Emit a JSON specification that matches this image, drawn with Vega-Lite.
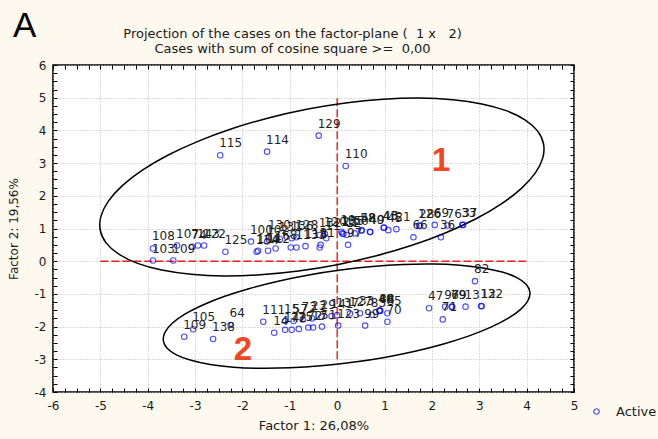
{
  "$schema": "https://vega.github.io/schema/vega-lite/v6.json",
  "autosize": {"type": "none"},
  "width": 521,
  "height": 327,
  "padding": {"left": 53, "top": 65, "right": 84, "bottom": 47},
  "background": "#fdf9ee",
  "config": {
    "font": "DejaVu Sans",
    "view": {"fill": "#ffffff", "stroke": "#000000", "strokeWidth": 1.6}
  },
  "title": {
    "text": "Projection of the cases on the factor-plane (\u00a0 1 x \u00a0 2)",
    "subtitle": "Cases with sum of cosine square >=\u00a0 0,00",
    "font": "DejaVu Sans",
    "subtitleFont": "DejaVu Sans",
    "fontSize": 13,
    "fontWeight": "normal",
    "subtitleFontSize": 13,
    "color": "#1a1a1a",
    "subtitleColor": "#1a1a1a",
    "anchor": "middle",
    "frame": "group",
    "dx": -21,
    "offset": -47,
    "subtitlePadding": 2
  },
  "datasets": {
    "pts": [
      {"x": -0.39, "y": 3.84, "id": "129", "status": "Active"},
      {"x": -1.48, "y": 3.35, "id": "114", "status": "Active"},
      {"x": -2.47, "y": 3.24, "id": "115", "status": "Active"},
      {"x": 0.18, "y": 2.91, "id": "110", "status": "Active"},
      {"x": -3.89, "y": 0.39, "id": "108", "status": "Active"},
      {"x": -3.89, "y": 0.02, "id": "103", "status": "Active"},
      {"x": -3.46, "y": 0.02, "id": "109", "status": "Active"},
      {"x": -3.38, "y": 0.48, "id": "107", "status": "Active"},
      {"x": -3.06, "y": 0.44, "id": "74", "status": "Active"},
      {"x": -2.94, "y": 0.48, "id": "143", "status": "Active"},
      {"x": -2.81, "y": 0.48, "id": "122", "status": "Active"},
      {"x": -2.36, "y": 0.29, "id": "125", "status": "Active"},
      {"x": -1.82, "y": 0.6, "id": "100", "status": "Active"},
      {"x": -1.7, "y": 0.29, "id": "134", "status": "Active"},
      {"x": -1.67, "y": 0.32, "id": "104", "status": "Active"},
      {"x": -1.46, "y": 0.32, "id": "112", "status": "Active"},
      {"x": -1.48, "y": 0.6, "id": "102", "status": "Active"},
      {"x": -1.44, "y": 0.73, "id": "130", "status": "Active"},
      {"x": -1.3, "y": 0.39, "id": "16", "status": "Active"},
      {"x": -1.21, "y": 0.67, "id": "131", "status": "Active"},
      {"x": -0.98, "y": 0.42, "id": "8", "status": "Active"},
      {"x": -0.96, "y": 0.7, "id": "136", "status": "Active"},
      {"x": -0.86, "y": 0.42, "id": "113", "status": "Active"},
      {"x": -0.86, "y": 0.73, "id": "128", "status": "Active"},
      {"x": -0.67, "y": 0.46, "id": "118", "status": "Active"},
      {"x": -0.37, "y": 0.42, "id": "3", "status": "Active"},
      {"x": -0.35, "y": 0.5, "id": "31", "status": "Active"},
      {"x": -0.37, "y": 0.8, "id": "132", "status": "Active"},
      {"x": -0.26, "y": 0.83, "id": "120", "status": "Active"},
      {"x": -0.23, "y": 0.7, "id": "11", "status": "Active"},
      {"x": 0.09, "y": 0.9, "id": "19", "status": "Active"},
      {"x": 0.11, "y": 0.85, "id": "135", "status": "Active"},
      {"x": 0.13, "y": 0.83, "id": "25", "status": "Active"},
      {"x": 0.2, "y": 0.8, "id": "12", "status": "Active"},
      {"x": 0.23, "y": 0.5, "id": "97", "status": "Active"},
      {"x": 0.37, "y": 0.85, "id": "50", "status": "Active"},
      {"x": 0.51, "y": 0.95, "id": "58", "status": "Active"},
      {"x": 0.52, "y": 0.94, "id": "48", "status": "Active"},
      {"x": 0.69, "y": 0.9, "id": "40", "status": "Active"},
      {"x": 0.7, "y": 0.89, "id": "49", "status": "Active"},
      {"x": 0.98, "y": 1.02, "id": "43", "status": "Active"},
      {"x": 0.99, "y": 1.03, "id": "46", "status": "Active"},
      {"x": 1.08, "y": 0.95, "id": "45", "status": "Active"},
      {"x": 1.25, "y": 0.98, "id": "21", "status": "Active"},
      {"x": 1.61, "y": 0.73, "id": "66", "status": "Active"},
      {"x": 1.73, "y": 1.09, "id": "126", "status": "Active"},
      {"x": 1.75, "y": 1.08, "id": "28", "status": "Active"},
      {"x": 2.06, "y": 1.11, "id": "69", "status": "Active"},
      {"x": 2.19, "y": 0.73, "id": "36", "status": "Active"},
      {"x": 2.33, "y": 1.09, "id": "76", "status": "Active"},
      {"x": 2.64, "y": 1.11, "id": "33", "status": "Active"},
      {"x": 2.66, "y": 1.11, "id": "37", "status": "Active"},
      {"x": -3.23, "y": -2.31, "id": "109", "status": "Active"},
      {"x": -3.04, "y": -2.08, "id": "105", "status": "Active"},
      {"x": -2.62, "y": -2.38, "id": "138", "status": "Active"},
      {"x": -2.25, "y": -1.95, "id": "64", "status": "Active"},
      {"x": -1.56, "y": -1.85, "id": "111", "status": "Active"},
      {"x": -1.33, "y": -2.19, "id": "14", "status": "Active"},
      {"x": -1.1, "y": -2.1, "id": "142", "status": "Active"},
      {"x": -1.1, "y": -1.83, "id": "15", "status": "Active"},
      {"x": -0.96, "y": -2.1, "id": "77", "status": "Active"},
      {"x": -0.92, "y": -1.83, "id": "57", "status": "Active"},
      {"x": -0.81, "y": -2.07, "id": "75", "status": "Active"},
      {"x": -0.73, "y": -1.78, "id": "73", "status": "Active"},
      {"x": -0.61, "y": -2.03, "id": "72", "status": "Active"},
      {"x": -0.53, "y": -1.75, "id": "23", "status": "Active"},
      {"x": -0.51, "y": -2.03, "id": "17", "status": "Active"},
      {"x": -0.32, "y": -2.0, "id": "51", "status": "Active"},
      {"x": -0.33, "y": -1.7, "id": "29", "status": "Active"},
      {"x": -0.12, "y": -1.68, "id": "141", "status": "Active"},
      {"x": 0.0, "y": -1.65, "id": "137", "status": "Active"},
      {"x": 0.02, "y": -1.97, "id": "123", "status": "Active"},
      {"x": 0.27, "y": -1.6, "id": "127", "status": "Active"},
      {"x": 0.48, "y": -1.59, "id": "33", "status": "Active"},
      {"x": 0.59, "y": -1.97, "id": "99", "status": "Active"},
      {"x": 0.73, "y": -1.64, "id": "83", "status": "Active"},
      {"x": 0.89, "y": -1.51, "id": "40", "status": "Active"},
      {"x": 0.9, "y": -1.51, "id": "48", "status": "Active"},
      {"x": 0.91, "y": -1.52, "id": "88", "status": "Active"},
      {"x": 1.06, "y": -1.59, "id": "85", "status": "Active"},
      {"x": 1.06, "y": -1.85, "id": "70", "status": "Active"},
      {"x": 1.94, "y": -1.44, "id": "47", "status": "Active"},
      {"x": 2.23, "y": -1.78, "id": "71", "status": "Active"},
      {"x": 2.28, "y": -1.39, "id": "97", "status": "Active"},
      {"x": 2.42, "y": -1.39, "id": "79", "status": "Active"},
      {"x": 2.43, "y": -1.4, "id": "69", "status": "Active"},
      {"x": 2.71, "y": -1.39, "id": "13", "status": "Active"},
      {"x": 3.04, "y": -1.37, "id": "132", "status": "Active"},
      {"x": 3.05, "y": -1.38, "id": "12", "status": "Active"},
      {"x": 2.91, "y": -0.61, "id": "82", "status": "Active"}
    ],
    "ell": [
      {"ex": 4.356, "ey": 3.592, "grp": 1, "ord": 0},
      {"ex": 4.341, "ey": 3.159, "grp": 1, "ord": 1},
      {"ex": 4.184, "ey": 2.699, "grp": 1, "ord": 2},
      {"ex": 3.89, "ey": 2.226, "grp": 1, "ord": 3},
      {"ex": 3.467, "ey": 1.754, "grp": 1, "ord": 4},
      {"ex": 2.931, "ey": 1.298, "grp": 1, "ord": 5},
      {"ex": 2.295, "ey": 0.872, "grp": 1, "ord": 6},
      {"ex": 1.579, "ey": 0.487, "grp": 1, "ord": 7},
      {"ex": 0.805, "ey": 0.158, "grp": 1, "ord": 8},
      {"ex": -0.002, "ey": -0.108, "grp": 1, "ord": 9},
      {"ex": -0.819, "ey": -0.302, "grp": 1, "ord": 10},
      {"ex": -1.621, "ey": -0.417, "grp": 1, "ord": 11},
      {"ex": -2.385, "ey": -0.452, "grp": 1, "ord": 12},
      {"ex": -3.085, "ey": -0.402, "grp": 1, "ord": 13},
      {"ex": -3.701, "ey": -0.272, "grp": 1, "ord": 14},
      {"ex": -4.214, "ey": -0.066, "grp": 1, "ord": 15},
      {"ex": -4.61, "ey": 0.213, "grp": 1, "ord": 16},
      {"ex": -4.875, "ey": 0.553, "grp": 1, "ord": 17},
      {"ex": -5.002, "ey": 0.946, "grp": 1, "ord": 18},
      {"ex": -4.987, "ey": 1.379, "grp": 1, "ord": 19},
      {"ex": -4.83, "ey": 1.839, "grp": 1, "ord": 20},
      {"ex": -4.536, "ey": 2.312, "grp": 1, "ord": 21},
      {"ex": -4.113, "ey": 2.784, "grp": 1, "ord": 22},
      {"ex": -3.577, "ey": 3.24, "grp": 1, "ord": 23},
      {"ex": -2.941, "ey": 3.666, "grp": 1, "ord": 24},
      {"ex": -2.225, "ey": 4.051, "grp": 1, "ord": 25},
      {"ex": -1.451, "ey": 4.38, "grp": 1, "ord": 26},
      {"ex": -0.644, "ey": 4.646, "grp": 1, "ord": 27},
      {"ex": 0.173, "ey": 4.84, "grp": 1, "ord": 28},
      {"ex": 0.975, "ey": 4.955, "grp": 1, "ord": 29},
      {"ex": 1.739, "ey": 4.99, "grp": 1, "ord": 30},
      {"ex": 2.439, "ey": 4.94, "grp": 1, "ord": 31},
      {"ex": 3.055, "ey": 4.81, "grp": 1, "ord": 32},
      {"ex": 3.568, "ey": 4.604, "grp": 1, "ord": 33},
      {"ex": 3.964, "ey": 4.325, "grp": 1, "ord": 34},
      {"ex": 4.229, "ey": 3.985, "grp": 1, "ord": 35},
      {"ex": 4.069, "ey": -0.938, "grp": 2, "ord": 0},
      {"ex": 4.032, "ey": -1.194, "grp": 2, "ord": 1},
      {"ex": 3.88, "ey": -1.465, "grp": 2, "ord": 2},
      {"ex": 3.615, "ey": -1.743, "grp": 2, "ord": 3},
      {"ex": 3.246, "ey": -2.018, "grp": 2, "ord": 4},
      {"ex": 2.786, "ey": -2.284, "grp": 2, "ord": 5},
      {"ex": 2.246, "ey": -2.531, "grp": 2, "ord": 6},
      {"ex": 1.644, "ey": -2.753, "grp": 2, "ord": 7},
      {"ex": 0.998, "ey": -2.942, "grp": 2, "ord": 8},
      {"ex": 0.328, "ey": -3.092, "grp": 2, "ord": 9},
      {"ex": -0.346, "ey": -3.2, "grp": 2, "ord": 10},
      {"ex": -1.004, "ey": -3.261, "grp": 2, "ord": 11},
      {"ex": -1.624, "ey": -3.275, "grp": 2, "ord": 12},
      {"ex": -2.19, "ey": -3.24, "grp": 2, "ord": 13},
      {"ex": -2.682, "ey": -3.158, "grp": 2, "ord": 14},
      {"ex": -3.087, "ey": -3.031, "grp": 2, "ord": 15},
      {"ex": -3.394, "ey": -2.863, "grp": 2, "ord": 16},
      {"ex": -3.59, "ey": -2.66, "grp": 2, "ord": 17},
      {"ex": -3.671, "ey": -2.426, "grp": 2, "ord": 18},
      {"ex": -3.634, "ey": -2.17, "grp": 2, "ord": 19},
      {"ex": -3.482, "ey": -1.899, "grp": 2, "ord": 20},
      {"ex": -3.217, "ey": -1.621, "grp": 2, "ord": 21},
      {"ex": -2.848, "ey": -1.346, "grp": 2, "ord": 22},
      {"ex": -2.388, "ey": -1.08, "grp": 2, "ord": 23},
      {"ex": -1.848, "ey": -0.833, "grp": 2, "ord": 24},
      {"ex": -1.246, "ey": -0.611, "grp": 2, "ord": 25},
      {"ex": -0.6, "ey": -0.422, "grp": 2, "ord": 26},
      {"ex": 0.07, "ey": -0.272, "grp": 2, "ord": 27},
      {"ex": 0.744, "ey": -0.164, "grp": 2, "ord": 28},
      {"ex": 1.402, "ey": -0.103, "grp": 2, "ord": 29},
      {"ex": 2.022, "ey": -0.089, "grp": 2, "ord": 30},
      {"ex": 2.588, "ey": -0.124, "grp": 2, "ord": 31},
      {"ex": 3.08, "ey": -0.206, "grp": 2, "ord": 32},
      {"ex": 3.485, "ey": -0.333, "grp": 2, "ord": 33},
      {"ex": 3.792, "ey": -0.501, "grp": 2, "ord": 34},
      {"ex": 3.988, "ey": -0.704, "grp": 2, "ord": 35}
    ],
    "hline": [{"rx": -5, "rx2": 4, "ry": 0}],
    "vline": [{"rx": 0, "ry": -3, "ry2": 5}],
    "groups": [
      {"gx": 2.19, "gy": 3.05, "t": "1"},
      {"gx": -1.99, "gy": -2.72, "t": "2"}
    ],
    "panel": [{"px": -6.6, "py": 7.2, "t": "A"}]
  },
  "layer": [
    {
      "data": {"name": "vline"},
      "mark": {"type": "rule", "color": "#ee1c1c", "strokeDash": [8, 3], "strokeWidth": 1.4},
      "encoding": {
        "x": {"field": "rx", "type": "quantitative", "scale": {"domain": [-6, 5], "nice": false, "zero": false}, "axis": null},
        "y": {"field": "ry", "type": "quantitative", "scale": {"domain": [-4, 6], "nice": false, "zero": false}, "axis": null},
        "y2": {"field": "ry2"}
      }
    },
    {
      "data": {"name": "hline"},
      "mark": {"type": "rule", "color": "#ee1c1c", "strokeDash": [8, 3], "strokeWidth": 1.4},
      "encoding": {
        "x": {"field": "rx", "type": "quantitative", "scale": {"domain": [-6, 5], "nice": false, "zero": false},
          "axis": {"orient": "top", "values": [-6,-5.75,-5.5,-5.25,-5,-4.75,-4.5,-4.25,-4,-3.75,-3.5,-3.25,-3,-2.75,-2.5,-2.25,-2,-1.75,-1.5,-1.25,-1,-0.75,-0.5,-0.25,0,0.25,0.5,0.75,1,1.25,1.5,1.75,2,2.25,2.5,2.75,3,3.25,3.5,3.75,4,4.25,4.5,4.75,5],
            "labels": false, "grid": false, "domain": false, "ticks": true, "tickSize": -4, "tickColor": "#000000", "tickWidth": 1, "title": null}},
        "x2": {"field": "rx2"},
        "y": {"field": "ry", "type": "quantitative", "scale": {"domain": [-4, 6], "nice": false, "zero": false},
          "axis": {"orient": "right", "values": [-4,-3.75,-3.5,-3.25,-3,-2.75,-2.5,-2.25,-2,-1.75,-1.5,-1.25,-1,-0.75,-0.5,-0.25,0,0.25,0.5,0.75,1,1.25,1.5,1.75,2,2.25,2.5,2.75,3,3.25,3.5,3.75,4,4.25,4.5,4.75,5,5.25,5.5,5.75,6],
            "labels": false, "grid": false, "domain": false, "ticks": true, "tickSize": -4, "tickColor": "#000000", "tickWidth": 1, "title": null}}
      }
    },
    {
      "data": {"name": "ell"},
      "mark": {"type": "line", "color": "#000000", "strokeWidth": 1.5, "interpolate": "cardinal-closed"},
      "encoding": {
        "x": {"field": "ex", "type": "quantitative", "scale": {"domain": [-6, 5], "nice": false, "zero": false}, "axis": null},
        "y": {"field": "ey", "type": "quantitative", "scale": {"domain": [-4, 6], "nice": false, "zero": false}, "axis": null},
        "detail": {"field": "grp", "type": "nominal"},
        "order": {"field": "ord", "type": "quantitative"}
      }
    },
    {
      "data": {"name": "pts"},
      "mark": {"type": "point", "shape": "circle", "filled": false, "size": 30, "strokeWidth": 1.1},
      "encoding": {
        "x": {"field": "x", "type": "quantitative", "scale": {"domain": [-6, 5], "nice": false, "zero": false},
          "axis": {"orient": "bottom", "values": [-6,-5.75,-5.5,-5.25,-5,-4.75,-4.5,-4.25,-4,-3.75,-3.5,-3.25,-3,-2.75,-2.5,-2.25,-2,-1.75,-1.5,-1.25,-1,-0.75,-0.5,-0.25,0,0.25,0.5,0.75,1,1.25,1.5,1.75,2,2.25,2.5,2.75,3,3.25,3.5,3.75,4,4.25,4.5,4.75,5],
            "labelExpr": "datum.value % 1 === 0 ? '' + datum.value : ''",
            "labelOverlap": false, "labelFlush": false, "labelFont": "DejaVu Sans", "labelFontSize": 12, "labelColor": "#1a1a1a", "labelPadding": 12,
            "grid": true, "gridColor": "#b8b8b8", "gridDash": [1, 2], "gridWidth": 1,
            "gridOpacity": {"condition": {"test": "datum.value % 1 === 0", "value": 1}, "value": 0},
            "domain": false, "ticks": true, "tickSize": -4, "tickColor": "#000000", "tickWidth": 1,
            "title": "Factor 1: 26,08%", "titleFont": "DejaVu Sans", "titleFontSize": 13, "titleFontWeight": "normal", "titleColor": "#1a1a1a", "titlePadding": 8}},
        "y": {"field": "y", "type": "quantitative", "scale": {"domain": [-4, 6], "nice": false, "zero": false},
          "axis": {"orient": "left", "values": [-4,-3.75,-3.5,-3.25,-3,-2.75,-2.5,-2.25,-2,-1.75,-1.5,-1.25,-1,-0.75,-0.5,-0.25,0,0.25,0.5,0.75,1,1.25,1.5,1.75,2,2.25,2.5,2.75,3,3.25,3.5,3.75,4,4.25,4.5,4.75,5,5.25,5.5,5.75,6],
            "labelExpr": "datum.value % 1 === 0 ? '' + datum.value : ''",
            "labelOverlap": false, "labelFlush": false, "labelFont": "DejaVu Sans", "labelFontSize": 12, "labelColor": "#1a1a1a", "labelPadding": 11,
            "grid": true, "gridColor": "#b8b8b8", "gridDash": [1, 2], "gridWidth": 1,
            "gridOpacity": {"condition": {"test": "datum.value % 1 === 0", "value": 1}, "value": 0},
            "domain": false, "ticks": true, "tickSize": -4, "tickColor": "#000000", "tickWidth": 1,
            "title": "Factor 2: 19,56%", "titleFont": "DejaVu Sans", "titleFontSize": 12, "titleFontWeight": "normal", "titleColor": "#1a1a1a", "titlePadding": 14}},
        "color": {"field": "status", "type": "nominal", "scale": {"range": ["#0000ff"]},
          "legend": {"orient": "none", "legendX": 537, "legendY": 340, "title": null, "padding": 0,
            "labelFont": "DejaVu Sans", "labelFontSize": 13, "labelColor": "#1a1a1a", "symbolSize": 30, "symbolStrokeWidth": 1.2, "labelOffset": 13, "symbolType": "circle"}}
      }
    },
    {
      "data": {"name": "pts"},
      "mark": {"type": "text", "align": "left", "baseline": "alphabetic", "dx": -1, "dy": -8, "font": "DejaVu Sans", "fontSize": 12, "color": "#1f1f1f"},
      "encoding": {
        "x": {"field": "x", "type": "quantitative", "scale": {"domain": [-6, 5], "nice": false, "zero": false}, "axis": null},
        "y": {"field": "y", "type": "quantitative", "scale": {"domain": [-4, 6], "nice": false, "zero": false}, "axis": null},
        "text": {"field": "id", "type": "nominal"}
      }
    },
    {
      "data": {"name": "groups"},
      "mark": {"type": "text", "align": "center", "baseline": "middle", "font": "Liberation Sans", "fontSize": 33, "fontWeight": "bold", "color": "#f4461c"},
      "encoding": {
        "x": {"field": "gx", "type": "quantitative", "scale": {"domain": [-6, 5], "nice": false, "zero": false}, "axis": null},
        "y": {"field": "gy", "type": "quantitative", "scale": {"domain": [-4, 6], "nice": false, "zero": false}, "axis": null},
        "text": {"field": "t", "type": "nominal"}
      }
    },
    {
      "data": {"name": "panel"},
      "mark": {"type": "text", "align": "center", "baseline": "middle", "font": "Liberation Sans", "fontSize": 35, "fontWeight": "normal", "color": "#000000"},
      "encoding": {
        "x": {"field": "px", "type": "quantitative", "scale": {"domain": [-6, 5], "nice": false, "zero": false}, "axis": null},
        "y": {"field": "py", "type": "quantitative", "scale": {"domain": [-4, 6], "nice": false, "zero": false}, "axis": null},
        "text": {"field": "t", "type": "nominal"}
      }
    }
  ],
  "resolve": {"axis": {"x": "independent", "y": "independent"}}
}
